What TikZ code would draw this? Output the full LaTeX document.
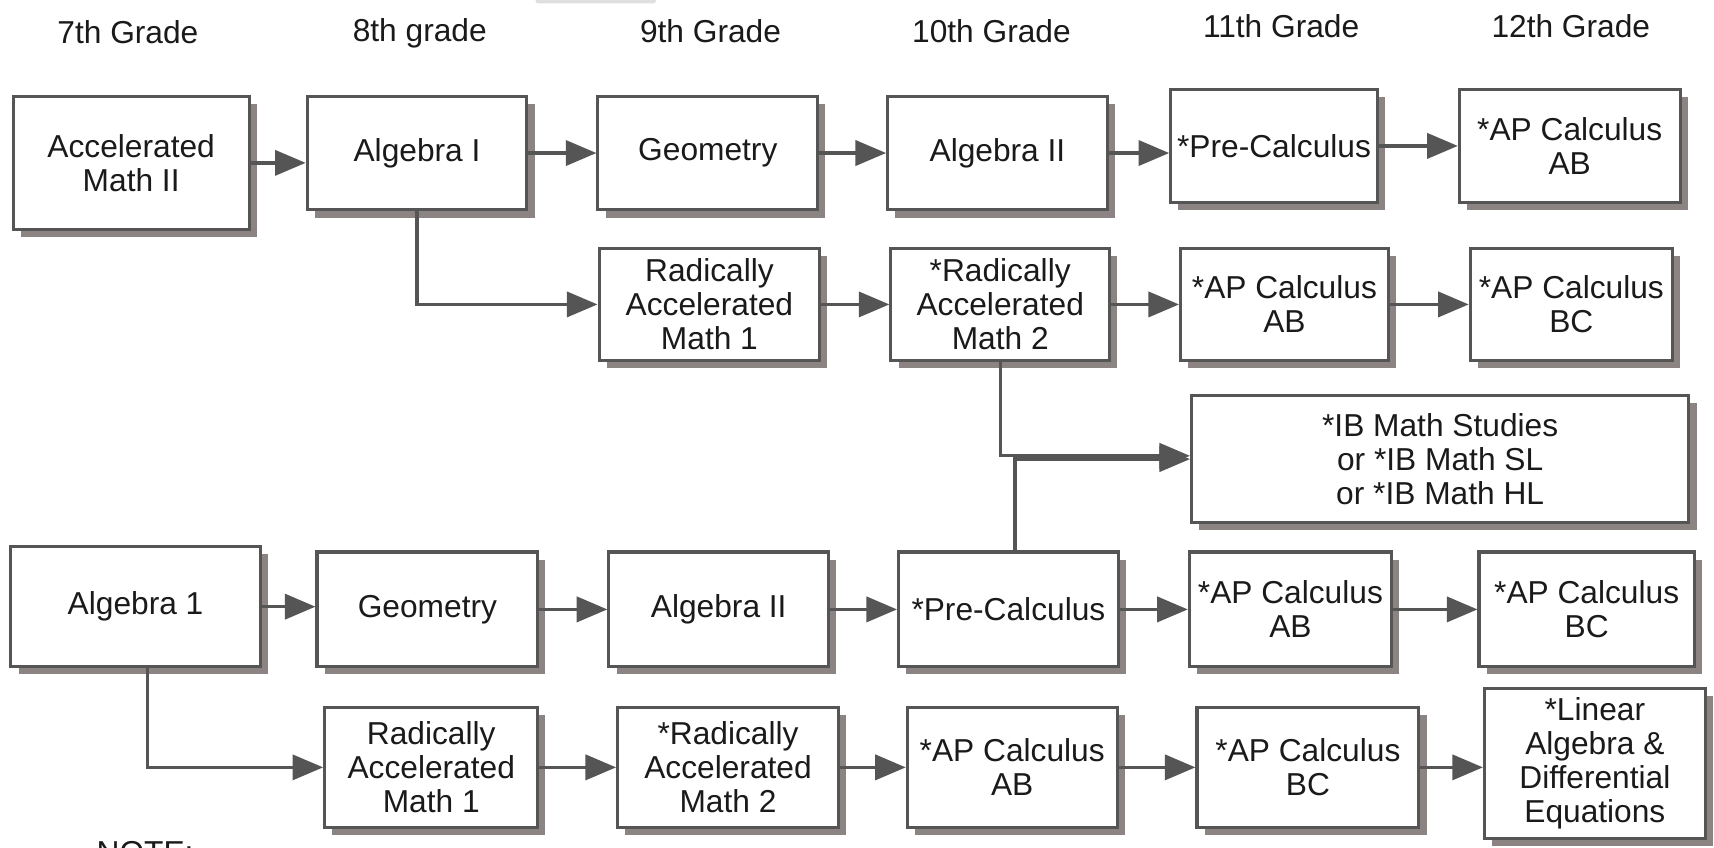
\documentclass[tikz,border=0pt]{standalone}
\usepackage{fontspec}
\setmainfont{Liberation Sans}
\usetikzlibrary{arrows.meta,shadows}
\definecolor{bord}{HTML}{555555}
\definecolor{shad}{HTML}{8C8383}
\definecolor{ln}{HTML}{555555}
\definecolor{txt}{HTML}{1A1A1A}
\tikzset{
 box/.style={draw=bord,line width=1.4pt,fill=white,align=center,inner sep=0pt,text=txt,
   font=\fontsize{14.5}{15.5}\selectfont,
   drop shadow={shadow xshift=3.5pt,shadow yshift=-3.5pt,fill=shad,opacity=1}},
 arr/.style={draw=ln,line width=1.5pt,-{Triangle[length=14pt,width=11.5pt]}},
 grade/.style={font=\fontsize{14.5}{15.5}\selectfont,text=txt,inner sep=0pt,anchor=base},
}
\newcommand\bx[6]{\node[box,minimum width={(#4-#2)*0.5pt},minimum height={(#5-#3)*0.5pt}] (#1) at ({(#2+#4)/2},{(#3+#5)/2}) {#6};}
\begin{document}
\begin{tikzpicture}[x=0.5pt,y=-0.5pt]
\useasboundingbox[fill=white] (0,0) rectangle (1568,775);
\fill[gray!25,rounded corners=1pt] (490,-2) rectangle (600,3);
% grade labels
\node[grade] (g7) at (117,40) {7th Grade};
\node[grade] (g8) at (384,38) {8th grade};
\node[grade] (g9) at (650,39) {9th Grade};
\node[grade] (g10) at (907,39) {10th Grade};
\node[grade] (g11) at (1172,34) {11th Grade};
\node[grade] (g12) at (1437,34) {12th Grade};
% row 1
\bx{a1}{12}{88}{228}{210}{Accelerated\\Math II}
\bx{a2}{281}{88}{482}{192}{Algebra I}
\bx{a3}{547}{88}{748}{192}{Geometry}
\bx{a4}{812}{88}{1013}{192}{Algebra II}
\bx{a5}{1071}{82}{1260}{185}{*Pre-Calculus}
\bx{a6}{1335}{82}{1537}{185}{*AP Calculus\\AB}
% row 2
\bx{b1}{548}{227}{750}{330}{Radically\\Accelerated\\Math 1}
\bx{b2}{815}{227}{1015}{330}{*Radically\\Accelerated\\Math 2}
\bx{b3}{1080}{227}{1270}{330}{*AP Calculus\\AB}
\bx{b4}{1345}{227}{1530}{330}{*AP Calculus\\BC}
% IB
\bx{ib}{1090}{362}{1545}{478}{*IB Math Studies\\or *IB Math SL\\or *IB Math HL}
% row 4
\bx{c1}{10}{500}{238}{610}{Algebra 1}
\bx{c2}{290}{505}{492}{610}{Geometry}
\bx{c3}{557}{505}{758}{610}{Algebra II}
\bx{c4}{822}{505}{1023}{610}{*Pre-Calculus}
\bx{c5}{1088}{505}{1273}{610}{*AP Calculus\\AB}
\bx{c6}{1353}{505}{1550}{610}{*AP Calculus\\BC}
% row 5
\bx{d1}{297}{647}{492}{757}{Radically\\Accelerated\\Math 1}
\bx{d2}{565}{647}{767}{757}{*Radically\\Accelerated\\Math 2}
\bx{d3}{830}{647}{1022}{757}{*AP Calculus\\AB}
\bx{d4}{1095}{647}{1298}{757}{*AP Calculus\\BC}
\bx{d5}{1358}{630}{1560}{767}{*Linear\\Algebra \&\\Differential\\Equations}
% arrows
\foreach \s/\t in {a1/a2,a2/a3,a3/a4,a4/a5,a5/a6,b1/b2,b2/b3,b3/b4,c1/c2,c2/c3,c3/c4,c4/c5,c5/c6,d1/d2,d2/d3,d3/d4,d4/d5}
  \draw[arr] (\s.east) -- (\s.east -| \t.west);
\draw[arr] (a2.south) |- (b1.west);
\draw[arr] (b2.south) |- ([yshift=1.5pt]ib.west);
\draw[arr] ([xshift=3pt]c4.north) |- (ib.west);
\draw[arr] ([xshift=5.5pt]c1.south) |- (d1.west);
\node[grade,anchor=base west] (note) at (88,790) {NOTE:};
\end{tikzpicture}
\end{document}
